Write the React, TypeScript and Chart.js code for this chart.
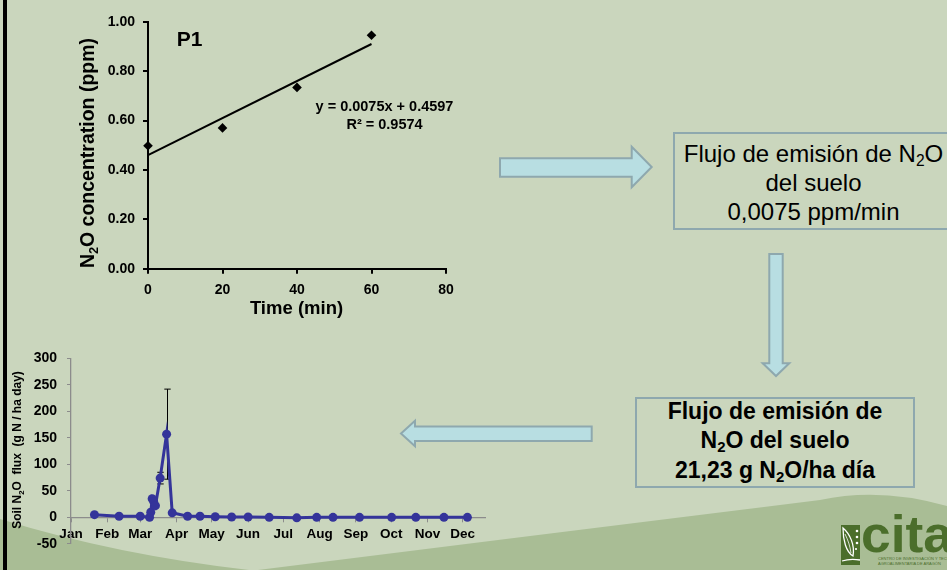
import React, { useEffect, useRef } from "react";
import { Chart, registerables } from "chart.js";

Chart.register(...registerables);

const FONT = "'Liberation Sans', Arial, Helvetica, sans-serif";

// ---- Top chart (chamber P1) ----
const timeMin = [0, 20, 40, 60];
const concPpm = [0.498, 0.57, 0.734, 0.945];
const trendTime = [0, 60];
const trendSlope = 0.0075;
const trendIntercept = 0.4597;
const topXTicks = [0, 20, 40, 60, 80];
const topYTicks = [0, 0.2, 0.4, 0.6, 0.8, 1.0];
const plotLabel = "P1";
const eqLabel = "y = 0.0075x + 0.4597";
const r2Label = "R² = 0.9574";

// ---- Bottom chart (annual soil N2O flux) ----
const monthLabels = ["Jan", "Feb", "Mar", "Apr", "May", "Jun", "Jul", "Aug", "Sep", "Oct", "Nov", "Dec"];
const monthStartDay = [0, 31, 59, 90, 120, 151, 181, 212, 243, 273, 304, 334];
const sampleDay = [20, 41, 59, 67, 68, 69.2, 70.5, 72, 76, 81.5, 86.3, 99.4, 110, 123, 137, 151, 169, 192.5, 209.5, 223.4, 246, 273.4, 294, 318, 338];
const fluxValue = [5, 2, 2, 0, 9.5, 35, 30, 22, 74, 157, 8.5, 2, 2, 1, 0.5, 0.5, 0, -1, 0, 0, 0, 0, 0, 0, 0];
const fluxError = [0, 0, 0, 0, 0, 0, 0, 0, 11, 85, 0, 0, 0, 0, 0, 0, 0, 0, 0, 0, 0, 0, 0, 0, 0];
const bottomYTicks = [-50, 0, 50, 100, 150, 200, 250, 300];

const BG = "#CAD6BD";
const DARK = "#A9BD95";
const ARROW_FILL = "#B8DEE2";
const ARROW_STROKE = "#8EA8AE";
const BLUE = "#34349A";
const LOGO = "#4B6E2B";

type Part = { t: string; sub?: boolean };

function drawRich(ctx: CanvasRenderingContext2D, parts: Part[], cx: number, cy: number, size: number, rotate: boolean) {
  ctx.save();
  ctx.translate(cx, cy);
  if (rotate) ctx.rotate(-Math.PI / 2);
  const subSize = size * 0.65;
  let total = 0;
  const widths = parts.map((p) => {
    ctx.font = `bold ${p.sub ? subSize : size}px ${FONT}`;
    const w = ctx.measureText(p.t).width;
    total += w;
    return w;
  });
  let x = -total / 2;
  ctx.textBaseline = "middle";
  ctx.textAlign = "left";
  ctx.fillStyle = "#000";
  parts.forEach((p, i) => {
    ctx.font = `bold ${p.sub ? subSize : size}px ${FONT}`;
    ctx.fillText(p.t, x, p.sub ? size * 0.3 : 0);
    x += widths[i];
  });
  ctx.restore();
}

function TopChart() {
  const ref = useRef<HTMLCanvasElement>(null);
  useEffect(() => {
    const overlay = {
      id: "topOverlay",
      afterDraw(chart: any) {
        const ctx = chart.ctx as CanvasRenderingContext2D;
        const a = chart.chartArea;
        drawRich(ctx, [{ t: "N" }, { t: "2", sub: true }, { t: "O concentration (ppm)" }], 18.5, 153, 19.5, true);
        drawRich(ctx, [{ t: "Time (min)" }], (a.left + a.right) / 2 - 0.5, 309, 18.5, false);
        ctx.save();
        ctx.fillStyle = "#000";
        ctx.textBaseline = "middle";
        ctx.font = `bold 21px ${FONT}`;
        ctx.textAlign = "left";
        ctx.fillText(plotLabel, 106.7, 40);
        ctx.font = `bold 14.5px ${FONT}`;
        ctx.textAlign = "center";
        ctx.fillText(eqLabel, 314.5, 107);
        ctx.fillText(r2Label, 314.5, 125);
        ctx.restore();
      },
    };
    const tickFont = { family: FONT, size: 14, weight: "bold" as const };
    const chart = new Chart(ref.current as HTMLCanvasElement, {
      type: "scatter",
      data: {
        datasets: [
          {
            data: timeMin.map((x, i) => ({ x, y: concPpm[i] })),
            pointStyle: "rectRot",
            pointRadius: 4.8,
            pointHoverRadius: 4.8,
            backgroundColor: "#000",
            borderColor: "#000",
            borderWidth: 0,
            showLine: false,
            clip: false,
          },
          {
            data: trendTime.map((x) => ({ x, y: trendSlope * x + trendIntercept })),
            showLine: true,
            borderColor: "#000",
            borderWidth: 2,
            pointRadius: 0,
            fill: false,
            clip: false,
          },
        ],
      },
      options: {
        responsive: false,
        animation: false,
        events: [],
        layout: { padding: { top: 21.7, right: 34, bottom: 0, left: 0 } },
        plugins: { legend: { display: false }, tooltip: { enabled: false } },
        scales: {
          x: {
            type: "linear",
            min: 0,
            max: 80,
            afterBuildTicks: (s: any) => {
              s.ticks = topXTicks.map((v) => ({ value: v }));
            },
            afterFit: (s: any) => {
              s.height = 61.3;
            },
            grid: { display: true, drawOnChartArea: false, drawTicks: true, tickLength: 5, color: "#000", lineWidth: 2 },
            border: { display: true, color: "#000", width: 2 },
            ticks: { color: "#000", font: tickFont, padding: 8, maxRotation: 0, autoSkip: false },
          },
          y: {
            type: "linear",
            min: 0,
            max: 1,
            afterBuildTicks: (s: any) => {
              s.ticks = topYTicks.map((v) => ({ value: v }));
            },
            afterFit: (s: any) => {
              s.width = 78;
            },
            grid: { display: true, drawOnChartArea: false, drawTicks: true, tickLength: 5, color: "#000", lineWidth: 2 },
            border: { display: true, color: "#000", width: 2 },
            ticks: {
              color: "#000",
              font: tickFont,
              padding: 8,
              autoSkip: false,
              callback: (v: any) => Number(v).toFixed(2),
            },
          },
        },
      } as any,
      plugins: [overlay],
    });
    return () => chart.destroy();
  }, []);
  return (
    <canvas
      ref={ref}
      width={410}
      height={330}
      style={{ position: "absolute", left: 70, top: 0, width: 410, height: 330 }}
    />
  );
}

function BottomChart() {
  const ref = useRef<HTMLCanvasElement>(null);
  useEffect(() => {
    const overlay = {
      id: "bottomOverlay",
      afterDraw(chart: any) {
        const ctx = chart.ctx as CanvasRenderingContext2D;
        drawRich(
          ctx,
          [{ t: "Soil N" }, { t: "2", sub: true }, { t: "O  flux  (g N / ha day)" }],
          10,
          110,
          12,
          true
        );
      },
    };
    const errorBars = {
      id: "errorBars",
      beforeDatasetsDraw(chart: any) {
        const ctx = chart.ctx as CanvasRenderingContext2D;
        const meta = chart.getDatasetMeta(0);
        const ys = chart.scales.y;
        ctx.save();
        ctx.strokeStyle = "#000";
        ctx.lineWidth = 1;
        fluxError.forEach((e, i) => {
          if (!e) return;
          const pt = meta.data[i];
          const x = Math.round(pt.x) + 0.5;
          const yTop = ys.getPixelForValue(fluxValue[i] + e);
          const yBot = ys.getPixelForValue(fluxValue[i] - e);
          ctx.beginPath();
          ctx.moveTo(x, yTop);
          ctx.lineTo(x, yBot);
          ctx.moveTo(x - 3.2, yTop);
          ctx.lineTo(x + 3.2, yTop);
          ctx.moveTo(x - 3.2, yBot);
          ctx.lineTo(x + 3.2, yBot);
          ctx.stroke();
        });
        ctx.restore();
      },
    };
    const chart = new Chart(ref.current as HTMLCanvasElement, {
      type: "line",
      data: {
        datasets: [
          {
            data: sampleDay.map((x, i) => ({ x, y: fluxValue[i] })),
            borderColor: BLUE,
            backgroundColor: BLUE,
            borderWidth: 3,
            pointRadius: 4.5,
            pointHoverRadius: 4.5,
            pointBorderWidth: 0,
            tension: 0,
            fill: false,
            clip: false,
          },
        ],
      },
      options: {
        responsive: false,
        animation: false,
        events: [],
        layout: { padding: { top: 9.3, right: 13, bottom: 21.2, left: 0 } },
        plugins: { legend: { display: false }, tooltip: { enabled: false } },
        scales: {
          x: {
            type: "linear",
            min: 0,
            max: 353,
            position: { y: 0 },
            afterBuildTicks: (s: any) => {
              s.ticks = monthStartDay.map((v) => ({ value: v }));
            },
            grid: { display: true, drawOnChartArea: false, drawTicks: true, tickLength: 4, color: "#8c8c8c", lineWidth: 1 },
            border: { display: true, color: "#8c8c8c", width: 1.3 },
            ticks: {
              color: "#000",
              font: { family: FONT, size: 13.5, weight: "bold" },
              padding: 5,
              maxRotation: 0,
              autoSkip: false,
              callback: (v: any) => {
                const i = monthStartDay.indexOf(Number(v));
                return i >= 0 ? monthLabels[i] : "";
              },
            },
          },
          y: {
            type: "linear",
            min: -50,
            max: 300,
            afterBuildTicks: (s: any) => {
              s.ticks = bottomYTicks.map((v) => ({ value: v }));
            },
            afterFit: (s: any) => {
              s.width = 63;
            },
            grid: { display: true, drawOnChartArea: false, drawTicks: true, tickLength: 4, color: "#8c8c8c", lineWidth: 1 },
            border: { display: true, color: "#8c8c8c", width: 1.3 },
            ticks: {
              color: "#000",
              font: { family: FONT, size: 14, weight: "bold" },
              padding: 10,
              autoSkip: false,
            },
          },
        },
      } as any,
      plugins: [errorBars, overlay],
    });
    return () => chart.destroy();
  }, []);
  return (
    <canvas
      ref={ref}
      width={490}
      height={225}
      style={{ position: "absolute", left: 8, top: 340, width: 490, height: 225 }}
    />
  );
}

const subStyle: React.CSSProperties = { fontSize: "0.65em", verticalAlign: "-0.28em", lineHeight: 0 };

export default function App() {
  return (
    <div
      style={{
        position: "absolute",
        left: 0,
        top: 0,
        width: 947,
        height: 570,
        overflow: "hidden",
        background: BG,
        fontFamily: FONT,
      }}
    >
      <svg width={947} height={570} style={{ position: "absolute", left: 0, top: 0 }}>
        <path d="M0,519 Q120,556 258,571 L0,571 Z" fill={DARK} />
        <path d="M250,571 L820,500 Q880,487 947,506 L947,571 Z" fill={DARK} />
        {/* arrows */}
        <polygon
          points="500,158.3 631.7,158.3 631.7,146.7 651.7,167 631.7,187.3 631.7,176.7 500,176.7"
          fill={ARROW_FILL}
          stroke={ARROW_STROKE}
          strokeWidth={2}
        />
        <polygon
          points="769.3,254 782.7,254 782.7,363.3 789.3,363.3 776,376 762.7,363.3 769.3,363.3"
          fill={ARROW_FILL}
          stroke={ARROW_STROKE}
          strokeWidth={2}
        />
        <polygon
          points="591.7,426.5 415,426.5 415,420.7 401,433.5 415,446.3 415,441 591.7,441"
          fill={ARROW_FILL}
          stroke={ARROW_STROKE}
          strokeWidth={2}
        />
        {/* logo */}
        <rect x={841} y={525} width={19} height={40} fill={LOGO} />
        <path d="M843,528 C850,534 855,545 853,556 C846,552 843,540 843,528 Z" fill="none" stroke="#fff" strokeWidth={1.3} />
        <path d="M845,534 C848,540 850,546 851,553" fill="none" stroke="#fff" strokeWidth={0.8} />
        <circle cx={857} cy={531} r={1.3} fill="#fff" />
        <circle cx={857} cy={537} r={1.3} fill="#fff" />
        <circle cx={857} cy={543} r={1.3} fill="#fff" />
        <circle cx={856} cy={549} r={1.1} fill="#fff" />
        <path d="M842,561 C848,559 854,559 860,560" fill="none" stroke="#fff" strokeWidth={1.3} />
        <text
          x={861}
          y={552}
          fontFamily={FONT}
          fontWeight="bold"
          fontSize={52}
          fill={LOGO}
          textLength={92}
          lengthAdjust="spacingAndGlyphs"
        >
          cita
        </text>
        <text x={878} y={560} fontFamily={FONT} fontSize={4} fill={LOGO}>
          CENTRO DE INVESTIGACIÓN Y TECNOLOGÍA
        </text>
        <text x={878} y={565} fontFamily={FONT} fontSize={4} fill={LOGO}>
          AGROALIMENTARIA DE ARAGÓN
        </text>
      </svg>

      <div style={{ position: "absolute", left: 3, top: 0, width: 4, height: 570, background: "#000" }} />

      {/* Box 1 */}
      <div
        style={{
          position: "absolute",
          left: 673,
          top: 132,
          width: 281,
          height: 98,
          boxSizing: "border-box",
          border: `2px solid ${ARROW_STROKE}`,
        }}
      />
      <div
        style={{
          position: "absolute",
          left: 673,
          top: 153 - 14.5,
          width: 281,
          textAlign: "center",
          fontSize: 24,
          lineHeight: "29.3px",
          color: "#000",
        }}
      >
        Flujo de emisión de N<sub style={subStyle}>2</sub>O
        <br />
        del suelo
        <br />
        0,0075 ppm/min
      </div>

      {/* Box 2 */}
      <div
        style={{
          position: "absolute",
          left: 635,
          top: 396.7,
          width: 280,
          height: 91.3,
          boxSizing: "border-box",
          border: `2px solid ${ARROW_STROKE}`,
        }}
      />
      <div
        style={{
          position: "absolute",
          left: 635,
          top: 411.7 - 14.5,
          width: 280,
          textAlign: "center",
          fontSize: 23,
          fontWeight: "bold",
          lineHeight: "29.2px",
          color: "#000",
        }}
      >
        Flujo de emisión de
        <br />
        N<sub style={subStyle}>2</sub>O del suelo
        <br />
        21,23 g N<sub style={subStyle}>2</sub>O/ha día
      </div>

      <TopChart />
      <BottomChart />
    </div>
  );
}
